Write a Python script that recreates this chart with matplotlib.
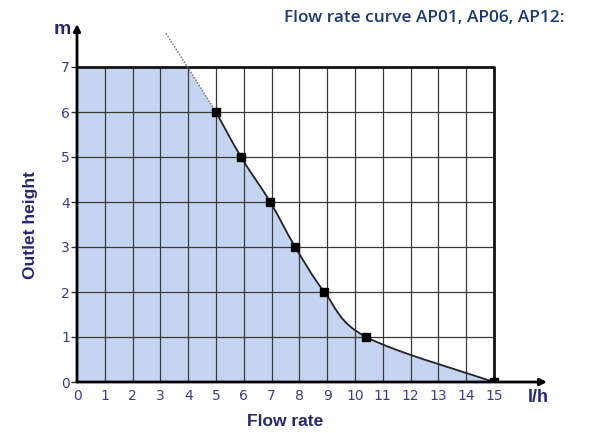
import matplotlib.pyplot as plt
import numpy as np
from matplotlib.path import Path
from matplotlib.patches import PathPatch

# pump curve read points (flow l/h, head m)
flow = [5, 5.9, 6.95, 7.85, 8.9, 10.4, 15]
head = [6, 5, 4, 3, 2, 1, 0]
# dotted extension of the curve above the last measured point
ext_flow = [5, 3.2]
ext_head = [6, 7.75]

xticks = list(range(0, 16))
yticks = list(range(0, 8))

navy = "#25286b"
tick_col = "#3c3f82"
title_col = "#1d3a6c"
fill_col = "#c5d5f1"


def smooth_path(xs, ys):
    # catmull-rom through the points, written as cubic beziers
    pts = np.column_stack([xs, ys]).astype(float)
    verts = [pts[0]]
    codes = [Path.MOVETO]
    n = len(pts)
    for i in range(n - 1):
        p0 = pts[max(i - 1, 0)]
        p1 = pts[i]
        p2 = pts[i + 1]
        p3 = pts[min(i + 2, n - 1)]
        c1 = p1 + (p2 - p0) / 6.0
        c2 = p2 - (p3 - p1) / 6.0
        verts += [c1, c2, p2]
        codes += [Path.CURVE4] * 3
    return verts, codes


fig = plt.figure(figsize=(5.89, 4.33), dpi=100)
W, H = 589, 433
x0px, x15px = 77, 494
y0px, y7px = 382, 67
sx = (x15px - x0px) / 15
sy = (y0px - y7px) / 7
xmax = (547 - x0px) / sx
ymax = (y0px - 24) / sy
ax = fig.add_axes([x0px / W, (H - y0px) / H, (547 - x0px) / W, (y0px - 24) / H])
ax.set_xlim(0, xmax)
ax.set_ylim(0, ymax)

# shaded operating area below the curve, capped at 7 m
verts, codes = smooth_path(ext_flow[::-1] + flow, ext_head[::-1] + head)
verts = verts + [(15, 0), (0, 0), (0, 7.75), verts[0]]
codes = codes + [Path.LINETO, Path.LINETO, Path.LINETO, Path.CLOSEPOLY]
area = PathPatch(Path(verts, codes), facecolor=fill_col, edgecolor="none", zorder=1)
ax.add_patch(area)
clip = plt.Rectangle((0, 0), 15, 7, transform=ax.transData)
area.set_clip_path(clip)

# grid
for x in xticks[1:-1]:
    ax.plot([x, x], [0, 7], color="#3a3a3a", lw=0.9, zorder=2)
for y in yticks[1:-1]:
    ax.plot([0, 15], [y, y], color="#3a3a3a", lw=0.9, zorder=2)
ax.plot([0, 15, 15], [7, 7, 0], color="#111111", lw=2, zorder=3)

# curve
cv, cc = smooth_path(flow, head)
ax.add_patch(PathPatch(Path(cv, cc), facecolor="none", edgecolor="#222222", lw=1.3, zorder=4))
ax.plot(ext_flow, ext_head, color="#777777", lw=1.1, ls=(0, (1, 1)), zorder=4)
ax.plot(flow, head, "s", color="black", ms=6, zorder=5)

# axes with arrows
for s in ax.spines.values():
    s.set_visible(False)
ax.annotate("", xy=(xmax, 0), xytext=(0, 0),
            arrowprops=dict(arrowstyle="-|>", color="black", lw=2, mutation_scale=10,
                            shrinkA=0, shrinkB=0), zorder=6)
ax.annotate("", xy=(0, ymax), xytext=(0, 0),
            arrowprops=dict(arrowstyle="-|>", color="black", lw=2, mutation_scale=10,
                            shrinkA=0, shrinkB=0), zorder=6)

ax.set_xticks(xticks)
ax.set_yticks(yticks)
ax.tick_params(axis="both", colors="#333333", labelcolor=tick_col, labelsize=10,
               length=4, width=1, direction="out", pad=1)
ax.tick_params(axis="x", length=0, pad=5)

fig.text(30 / W, 1 - 225 / H, "Outlet height", rotation=90, ha="center", va="center",
         color=navy, fontsize=12.5, fontweight="bold", family="Liberation Sans")
fig.text(285 / W, 1 - 421 / H, "Flow rate", ha="center", va="center",
         color=navy, fontsize=12.5, fontweight="bold", family="Liberation Sans")
fig.text(538 / W, 1 - 397 / H, "l/h", ha="center", va="center",
         color=navy, fontsize=13, fontweight="bold", family="Liberation Sans")
fig.text(62 / W, 1 - 30 / H, "m", ha="center", va="center",
         color=navy, fontsize=14, fontweight="bold", family="Liberation Sans")
fig.text(564 / W, 1 - 18 / H, "Flow rate curve AP01, AP06, AP12:", ha="right", va="center",
         color=title_col, fontsize=12.4, fontweight="semibold", family="Open Sans")

fig.savefig("out.png", dpi=100)
